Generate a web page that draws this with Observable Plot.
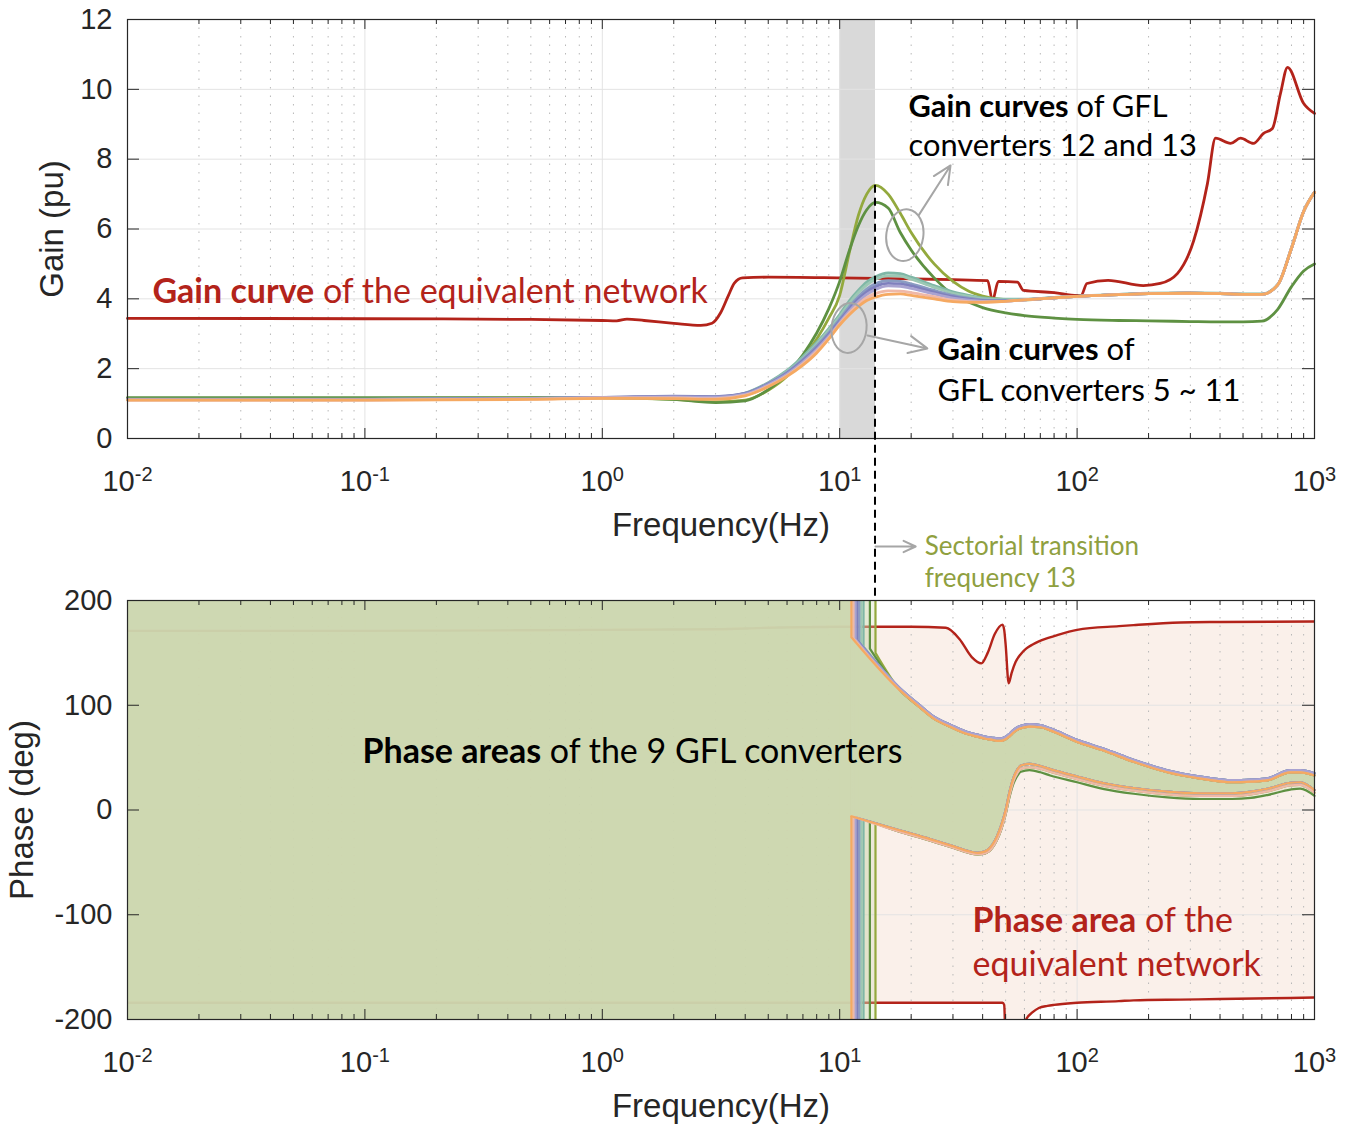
<!DOCTYPE html>
<html><head><meta charset="utf-8">
<script src="https://cdn.jsdelivr.net/npm/d3@7"></script>
<script src="https://cdn.jsdelivr.net/npm/@observablehq/plot@0.6"></script>
<style>
body{margin:0;background:#fff;}
#wrap{position:relative;width:1346px;height:1128px;background:#fff;}
#wrap > svg{position:absolute;left:0;top:0;display:block;}
</style></head>
<body><div id="wrap"></div>
<script>
// ---------------- DATA ----------------
const xMajorTicks = [0.01, 0.1, 1, 10, 100, 1000];
const xTickLabels = ["10^-2", "10^-1", "10^0", "10^1", "10^2", "10^3"];
const xMinorTicks = [0.02,0.03,0.04,0.05,0.06,0.07,0.08,0.09, 0.2,0.3,0.4,0.5,0.6,0.7,0.8,0.9,
  2,3,4,5,6,7,8,9, 20,30,40,50,60,70,80,90, 200,300,400,500,600,700,800,900];
const gainTicks = [0, 2, 4, 6, 8, 10, 12];
const phaseTicks = [-200, -100, 0, 100, 200];

const shadedBand = [10, 14.15];           // Hz
const transitionFreq13 = 14.15;           // Hz
const peakGain13 = 7.25;

// gain of equivalent network
const gainNetF = [0.01,0.1,0.5,1,1.15,1.27,1.5,2,2.6,2.9,3.15,3.4,3.6,3.9,5,10,20,30,42,44,46.6,56,59.5,80,100,104,110,135,190,224,265,310,354,383,443,488,553,610,665,719,770,899,1000];
const gainNet  = [3.44,3.43,3.41,3.38,3.37,3.42,3.38,3.3,3.24,3.3,3.6,4.1,4.45,4.6,4.62,4.6,4.57,4.55,4.52,3.95,4.5,4.48,4.24,4.18,4.1,4.1,4.44,4.53,4.38,4.44,4.73,5.67,7.3,8.6,8.45,8.6,8.45,8.74,8.88,9.88,10.63,9.6,9.31];

// gain of GFL converters (common frequency grid)
const freqGain = [0.01,0.1,0.5,1,2,3,4,5,6,7,8,9,10,11,12,13,14.15,16,18,20,25,30,35,40,50,60,80,100,150,200,300,400,500,600,700,800,900,1000];
const gainConv13 = [1.15,1.15,1.16,1.16,1.12,1.05,1.1,1.38,1.78,2.3,2.85,3.45,4.1,5.35,6.4,7.0,7.25,7.0,6.45,5.9,5.0,4.5,4.22,4.08,3.98,3.97,4.03,4.07,4.12,4.15,4.16,4.15,4.13,4.13,4.4,5.45,6.5,7.05];
const gainConv12 = [1.17,1.17,1.17,1.17,1.12,1.03,1.08,1.4,1.85,2.4,3.02,3.72,4.5,5.4,6.1,6.55,6.76,6.6,5.9,5.4,4.6,4.12,3.9,3.75,3.6,3.52,3.45,3.41,3.38,3.37,3.35,3.34,3.34,3.36,3.7,4.35,4.8,5.0];
const gainConv5  = [1.13,1.13,1.15,1.18,1.18,1.17,1.3,1.6,1.95,2.35,2.75,3.15,3.55,3.95,4.25,4.48,4.63,4.74,4.72,4.62,4.38,4.2,4.1,4.03,3.99,3.99,4.04,4.08,4.13,4.16,4.17,4.16,4.14,4.14,4.41,5.46,6.51,7.06];
const gainConv6  = [1.12,1.12,1.14,1.17,1.17,1.16,1.28,1.58,1.92,2.3,2.7,3.1,3.5,3.88,4.18,4.4,4.56,4.66,4.65,4.56,4.33,4.16,4.07,4.0,3.97,3.98,4.03,4.07,4.12,4.15,4.16,4.15,4.13,4.13,4.4,5.45,6.5,7.05];
const gainConv7  = [1.12,1.12,1.15,1.18,1.2,1.19,1.3,1.58,1.9,2.27,2.65,3.03,3.42,3.78,4.07,4.28,4.43,4.52,4.5,4.43,4.24,4.1,4.02,3.97,3.95,3.97,4.03,4.07,4.12,4.15,4.16,4.15,4.13,4.13,4.4,5.45,6.5,7.05];
const gainConv8  = [1.12,1.12,1.15,1.18,1.21,1.2,1.29,1.56,1.87,2.23,2.6,2.98,3.37,3.72,4.0,4.2,4.35,4.44,4.43,4.37,4.19,4.06,3.99,3.95,3.94,3.97,4.03,4.07,4.12,4.15,4.16,4.15,4.13,4.13,4.4,5.45,6.5,7.05];
const gainConv9  = [1.11,1.11,1.14,1.17,1.19,1.18,1.27,1.54,1.84,2.19,2.55,2.93,3.32,3.66,3.93,4.13,4.27,4.37,4.36,4.3,4.14,4.02,3.96,3.93,3.93,3.97,4.03,4.07,4.12,4.15,4.16,4.15,4.13,4.13,4.4,5.45,6.5,7.05];
const gainConv10 = [1.1,1.1,1.13,1.16,1.16,1.14,1.24,1.5,1.8,2.14,2.5,2.88,3.28,3.6,3.85,4.03,4.15,4.23,4.22,4.18,4.06,3.96,3.92,3.91,3.93,3.97,4.03,4.07,4.12,4.15,4.16,4.15,4.13,4.13,4.4,5.45,6.5,7.05];
const gainConv11 = [1.1,1.1,1.12,1.15,1.14,1.12,1.22,1.48,1.78,2.1,2.45,2.85,3.25,3.55,3.78,3.95,4.05,4.13,4.14,4.1,4.0,3.92,3.9,3.9,3.93,3.97,4.03,4.07,4.12,4.15,4.16,4.15,4.13,4.13,4.4,5.45,6.5,7.05];

// phase of equivalent network (two wrapped branches)
const phaseNetF     = [0.01,0.1,1,3,5,10,20,28,32,36,39.5,42,45,48.5,49.3,50,51.5,53,55,58,61,65,69,75,80,100,150,173,273,400,1000];
const phaseNetUpper = [171,171,172,172.5,174,175,175,174,163,146,140,150,168,177,172,158,121,131,141,149,154,158,161,164,166,172,175.5,176.5,179,179.5,180];
const phaseNetLower = [-184,-184,-184,-184,-184,-184,-184,-184,-184,-184,-184,-184,-184,-184,-186,-225,-245,-250,-250,-240,-200,-193,-189,-187,-186,-184,-182.5,-181.7,-181,-180.5,-179];

// phase boundaries of GFL converters after their sectorial transition
const phaseGflF        = [18,21.5,25,29.5,34.5,38,41,44,46,48,50,52,54,56,58,63,70,77,100,130,173,240,330,450,540,640,790,870,1000];
const phaseUpperHi     = [116,101,89,81,74.5,72,70,69,68.5,68.5,70,73,76.5,79,80.5,82,81,78,67,58.5,48,38,32,28.5,29,30.5,38,38,35];
const phaseUpperLo     = [114,99,87,79,72.5,70,68,67,66,66,67.5,70.5,74,76.5,78,79.5,79,76,65,56.5,46,36,30,26.5,27,28.5,36,36,33];
const phaseLowerHi     = [-19.6,-24.5,-29,-34,-39,-41,-39.5,-33,-25,-14,0,18,31,38.5,42.5,44,42,39,32,25.5,21,17.5,16,16,17.5,20.5,26,26.5,19];
const phaseLowerLo     = [-21,-26,-30.5,-35.5,-40.5,-42.5,-41.5,-36,-28.5,-18,-4,14,27.5,35,39.5,41,39.5,36.5,29.5,23,18.5,15,13.5,13.5,15,18,23.5,24,16.5];
const phaseLowerConv12 = [-21,-26,-30.5,-35.5,-40.5,-42.5,-41.5,-36,-28.5,-18,-4,13,25.5,32.5,36.5,38,36,33,26.5,20,15.5,12,10.5,10.5,11.5,14.5,19.5,20.5,13.6];

// converters (drawing order)
const converterIds      = [13, 12, 5, 6, 7, 8, 9, 10, 11];
const converterColors   = ["#93a93d","#5e9142","#7fb7a6","#9cc8b4","#8a9cc2","#7f80bd","#a9a3d1","#efb8a8","#f5a962"];
const transitionFreqs   = [14.15, 13.4, 12.6, 12.33, 12.09, 11.86, 11.64, 11.42, 11.2];
const phaseStartUpper   = [150, 154, 156, 158, 160, 162, 163, 164, 165];
const phaseStartLower   = [-12.6, -11, -9.4, -8.7, -8.2, -7.6, -7, -6.5, -6];
const converterUpperSet = ["lo","lo","hi","hi","hi","hi","hi","lo","lo"];
const converterLowerSet = ["lo","c12","hi","hi","hi","hi","hi","lo","hi"];
const gainSeries = [gainConv13, gainConv12, gainConv5, gainConv6, gainConv7, gainConv8, gainConv9, gainConv10, gainConv11];

// ---------------- STYLE / LAYOUT ----------------
const W = 1346, H = 1128, ML = 127, MR = 32, FRAME_H = 419, FRAME_W = W - ML - MR;
const TOP_MT = 19, TOP_MB = H - TOP_MT - FRAME_H;
const BOT_MT = 600, BOT_MB = H - BOT_MT - FRAME_H;
const RED = "#b3231a", INK = "#262626", GRID = "#e3e3e3", MINOR = "#b8b8b8";
const GREEN_FILL = "#cdd6af", PINK_FILL = "#faf0ea", NOTE_GRAY = "#a6a6a6", OLIVE_TXT = "#8fa03f";
const NOTE_FONT = "Lato, 'Open Sans', sans-serif";

// ---------------- TABLES ----------------
const gainNetRows = gainNetF.map((f, i) => ({f, g: gainNet[i]}));
const gainRows = converterIds.flatMap((id, k) => freqGain.map((f, i) => ({id, color: converterColors[k], f, g: gainSeries[k][i]})));
const netRows = phaseNetF.map((f, i) => ({f, up: phaseNetUpper[i], lo: phaseNetLower[i]}));
const upperSets = {hi: phaseUpperHi, lo: phaseUpperLo};
const lowerSets = {hi: phaseLowerHi, lo: phaseLowerLo, c12: phaseLowerConv12};
const converters = converterIds.map((id, k) => ({id, color: converterColors[k], fT: transitionFreqs[k], up0: phaseStartUpper[k], lo0: phaseStartLower[k]}));
const phaseRows = converters.flatMap((c, k) => [
  {id: c.id, color: c.color, f: c.fT, up: c.up0, lo: c.lo0},
  ...phaseGflF.map((f, i) => ({id: c.id, color: c.color, f, up: upperSets[converterUpperSet[k]][i], lo: lowerSets[converterLowerSet[k]][i]}))
]);

// annotations (positions in data units)
const gainNotes = [
  {f: 0.01274, g: 4.18, text: "**Gain curve** of the equivalent network", color: RED, size: 34},
  {f: 19.5, g: 9.48, text: "**Gain curves** of GFL", color: "#000", size: 30.8},
  {f: 19.5, g: 8.36, text: "converters 12 and 13", color: "#000", size: 30.8},
  {f: 25.8, g: 2.52, text: "**Gain curves** of", color: "#000", size: 31},
  {f: 25.8, g: 1.37, text: "GFL converters 5 ~ 11", color: "#000", size: 31}
];
const gainArrows = [
  {f1: 21.5, g1: 6.39, f2: 29.3, g2: 7.82},
  {f1: 13.1, g1: 2.95, f2: 23.4, g2: 2.58}
];
const gainEllipses = [
  {f: 18.9, g: 5.81, rx: 18.5, ry: 26, rot: 8},
  {f: 11.0, g: 3.15, rx: 17.5, ry: 25, rot: 6}
];
const transitionNote = ["Sectorial transition", "frequency 13"];
const phaseNotes = [
  {f: 0.0977, p: 54.9, text: "**Phase areas** of the 9 GFL converters", color: "#000"},
  {f: 36.3, p: -106.4, text: "**Phase area** of the", color: RED},
  {f: 36.3, p: -148.5, text: "equivalent network", color: RED}
];

// ---------------- HELPERS ----------------
function gridMarks(yTicks) {
  return [
    Plot.ruleX(xMajorTicks.slice(1, -1), {stroke: GRID, strokeWidth: 1}),
    Plot.ruleX(xMinorTicks, {stroke: MINOR, strokeWidth: 1, strokeDasharray: "1.5,7"}),
    Plot.ruleY(yTicks.slice(1, -1), {stroke: GRID, strokeWidth: 1})
  ];
}
function axisMarks(yTicks, yLabel, yLabelDx) {
  return [
    Plot.frame({stroke: INK, strokeWidth: 1.2}),
    Plot.ruleX(xMajorTicks, {insetTop: FRAME_H - 10, stroke: INK}),
    Plot.ruleX(xMajorTicks, {insetBottom: FRAME_H - 10, stroke: INK}),
    Plot.ruleX(xMinorTicks, {insetTop: FRAME_H - 5, stroke: INK}),
    Plot.ruleX(xMinorTicks, {insetBottom: FRAME_H - 5, stroke: INK}),
    Plot.ruleY(yTicks, {insetRight: FRAME_W - 12, stroke: INK}),
    Plot.ruleY(yTicks, {insetLeft: FRAME_W - 12, stroke: INK}),
    Plot.text(xMajorTicks, {x: d => d, text: (d, i) => xTickLabels[i], frameAnchor: "bottom", dy: 52, lineAnchor: "bottom", textAnchor: "middle", fontSize: 29, fill: INK}),
    Plot.text(yTicks, {y: d => d, text: d => String(d), frameAnchor: "left", dx: -15, textAnchor: "end", lineAnchor: "middle", fontSize: 29, fill: INK}),
    Plot.text(["Frequency(Hz)"], {frameAnchor: "bottom", dy: 97, lineAnchor: "bottom", textAnchor: "middle", fontSize: 33, fill: INK}),
    Plot.text([yLabel], {frameAnchor: "left", dx: yLabelDx, rotate: -90, textAnchor: "middle", lineAnchor: "middle", fontSize: 33, fill: INK})
  ];
}
function richText(svg) {
  d3.select(svg).selectAll("text").each(function () {
    const t = this.textContent;
    const m = /^10\^(-?\d+)$/.exec(t);
    const el = d3.select(this);
    if (m) {
      el.text(null);
      el.append("tspan").text("10");
      el.append("tspan").attr("dy", "-0.5em").attr("font-size", "20px").text(m[1]);
    } else if (t.includes("**")) {
      const parts = t.split("**");
      el.text(null);
      parts.forEach((p, i) => { if (p) el.append("tspan").attr("font-weight", i % 2 ? "bold" : "normal").text(p); });
    }
  });
}
const baseStyle = {fontFamily: "'Liberation Sans', Arial, Helvetica, sans-serif", fontSize: "29px", color: INK, background: "transparent"};

// ---------------- TOP: GAIN ----------------
const topPlot = Plot.plot({
  width: W, height: H, marginLeft: ML, marginRight: MR, marginTop: TOP_MT, marginBottom: TOP_MB,
  x: {type: "log", domain: [0.01, 1000], axis: null},
  y: {domain: [0, 12], axis: null},
  color: {type: "identity"},
  style: baseStyle,
  marks: [
    Plot.rect([shadedBand], {x1: d => d[0], x2: d => d[1], y1: 0, y2: 12, fill: "#d9d9d9"}),
    ...gridMarks(gainTicks),
    Plot.line(gainNetRows, {x: "f", y: "g", stroke: RED, strokeWidth: 2.8, curve: "monotone-x"}),
    Plot.line(gainRows, {x: "f", y: "g", z: "id", stroke: "color", strokeWidth: 2.8, curve: "monotone-x"}),
    ...axisMarks(gainTicks, "Gain (pu)", -75),
    Plot.text(gainNotes, {x: "f", y: "g", text: "text", fill: "color", fontSize: "size", textAnchor: "start", lineAnchor: "middle", fontFamily: NOTE_FONT}),
    Plot.arrow(gainArrows, {x1: "f1", y1: "g1", x2: "f2", y2: "g2", stroke: NOTE_GRAY, strokeWidth: 2, headLength: 16, headAngle: 50}),
    Plot.arrow([transitionFreq13], {x1: d => d, x2: 20.9, y1: 0, y2: 0, dy: 108, stroke: NOTE_GRAY, strokeWidth: 2, headLength: 16, headAngle: 50}),
    Plot.text(transitionNote.slice(0, 1), {x: 22.8, frameAnchor: "bottom", dy: 108, text: d => d, textAnchor: "start", lineAnchor: "middle", fill: OLIVE_TXT, fontFamily: NOTE_FONT, fontSize: 26}),
    Plot.text(transitionNote.slice(1, 2), {x: 22.8, frameAnchor: "bottom", dy: 140, text: d => d, textAnchor: "start", lineAnchor: "middle", fill: OLIVE_TXT, fontFamily: NOTE_FONT, fontSize: 26})
  ]
});

// ---------------- BOTTOM: PHASE ----------------
const botPlot = Plot.plot({
  width: W, height: H, marginLeft: ML, marginRight: MR, marginTop: BOT_MT, marginBottom: BOT_MB,
  x: {type: "log", domain: [0.01, 1000], axis: null},
  y: {domain: [-200, 200], axis: null},
  color: {type: "identity"},
  style: baseStyle,
  marks: [
    Plot.areaY(netRows, {x: "f", y1: "lo", y2: "up", fill: PINK_FILL, curve: "monotone-x", clip: true}),
    ...gridMarks(phaseTicks),
    Plot.line(netRows, {x: "f", y: "up", stroke: RED, strokeWidth: 2.4, curve: "monotone-x", clip: true}),
    Plot.line(netRows, {x: "f", y: "lo", stroke: RED, strokeWidth: 2.4, curve: "monotone-x", clip: true}),
    Plot.rect(converters, {x1: 0.01, x2: "fT", y1: -200, y2: 200, fill: GREEN_FILL, fillOpacity: 0.3}),
    Plot.areaY(phaseRows, {x: "f", y1: "lo", y2: "up", z: "id", fill: GREEN_FILL, fillOpacity: 0.3, curve: "monotone-x"}),
    Plot.ruleX(converters, {x: "fT", y1: 200, y2: "up0", stroke: "color", strokeWidth: 2.2}),
    Plot.ruleX(converters, {x: "fT", y1: -200, y2: "lo0", stroke: "color", strokeWidth: 2.2}),
    Plot.line(phaseRows, {x: "f", y: "up", z: "id", stroke: "color", strokeWidth: 2.2, curve: "monotone-x"}),
    Plot.line(phaseRows, {x: "f", y: "lo", z: "id", stroke: "color", strokeWidth: 2.2, curve: "monotone-x"}),
    ...axisMarks(phaseTicks, "Phase (deg)", -105),
    Plot.text(phaseNotes, {x: "f", y: "p", text: "text", fill: "color", textAnchor: "start", lineAnchor: "middle", fontFamily: NOTE_FONT, fontSize: 34})
  ]
});

const wrap = document.getElementById("wrap");
wrap.append(topPlot, botPlot);
richText(topPlot); richText(botPlot);

// ellipses around curve groups + dashed sectorial-transition line spanning both panels
const xs = topPlot.scale("x"), ysT = topPlot.scale("y"), ysB = botPlot.scale("y");
const bsvg = d3.select(botPlot);
gainEllipses.forEach(e => {
  const cx = xs.apply(e.f), cy = ysT.apply(e.g);
  bsvg.append("ellipse").attr("cx", cx).attr("cy", cy).attr("rx", e.rx).attr("ry", e.ry)
    .attr("transform", `rotate(${e.rot},${cx},${cy})`)
    .attr("fill", "none").attr("stroke", NOTE_GRAY).attr("stroke-width", 2);
});
const xd = xs.apply(transitionFreq13);
bsvg.append("line").attr("x1", xd).attr("x2", xd)
  .attr("y1", ysT.apply(peakGain13)).attr("y2", ysB.apply(200))
  .attr("stroke", "#000").attr("stroke-width", 2).attr("stroke-dasharray", "8,5");
</script>
</body></html>
